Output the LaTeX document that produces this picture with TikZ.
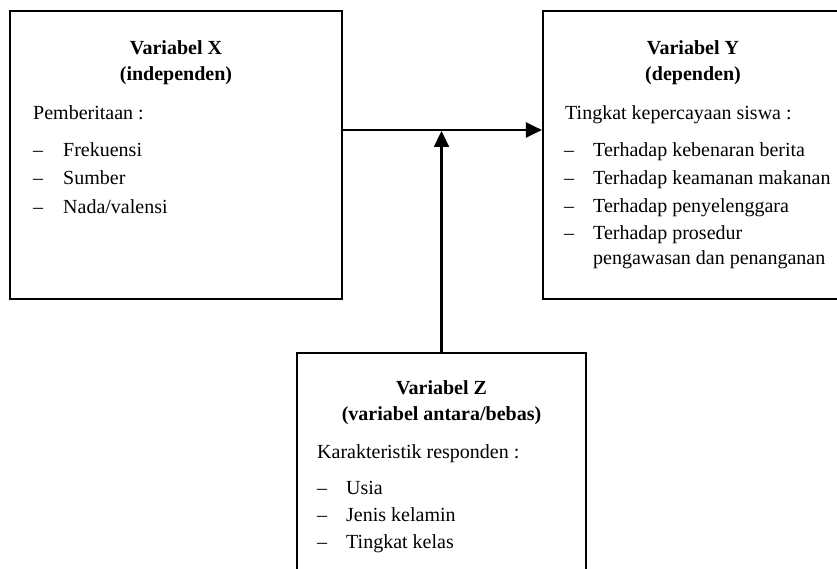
\documentclass[tikz,border=0pt]{standalone}
\usepackage{fontspec}
\setmainfont{Liberation Serif}
\usetikzlibrary{arrows.meta}
\begin{document}
\begin{tikzpicture}[x=1pt,y=-1pt,
  box/.style={draw,line width=2.2pt,inner sep=0pt},
  ttl/.style={font=\fontsize{20}{22}\selectfont\bfseries,anchor=base,inner sep=0pt},
  txt/.style={font=\fontsize{20}{22}\selectfont,anchor=base west,inner sep=0pt},
  arr/.style={line width=2.2pt,-{Triangle[length=16pt,width=15pt]}}]
\useasboundingbox (0,0) rectangle (837,569);
\clip (0,0) rectangle (837,569);
\fill[white] (0,0) rectangle (837,569);
% boxes
\node[box,minimum width=332pt,minimum height=288pt] (bx) at (176,155) {};
\node[box,minimum width=300pt,minimum height=288pt] (by) at (693,155) {};
\node[box,minimum width=289pt,minimum height=237pt] (bz) at (441.5,471.5) {};
% X text
\node[ttl] (xt1) at (176,55) {Variabel X};
\node[ttl] (xt2) at (176,81) {(independen)};
\node[txt] (xh) at (33,120) {Pemberitaan :};
\node[txt] (xd1) at (33,157) {\textendash};
\node[txt] (xi1) at (63,157) {Frekuensi};
\node[txt] (xd2) at (33,185) {\textendash};
\node[txt] (xi2) at (63,185) {Sumber};
\node[txt] (xd3) at (33,214) {\textendash};
\node[txt] (xi3) at (63,214) {Nada/valensi};
% Y text
\node[ttl] (yt1) at (693,55) {Variabel Y};
\node[ttl] (yt2) at (693,81) {(dependen)};
\node[txt] (yh) at (565,120) {Tingkat kepercayaan siswa :};
\node[txt] (yd1) at (564,157) {\textendash};
\node[txt] (yi1) at (593,157) {Terhadap kebenaran berita};
\node[txt] (yd2) at (564,185) {\textendash};
\node[txt] (yi2) at (593,185) {Terhadap keamanan makanan};
\node[txt] (yd3) at (564,213) {\textendash};
\node[txt] (yi3) at (593,213) {Terhadap penyelenggara};
\node[txt] (yd4) at (564,240) {\textendash};
\node[txt] (yi4) at (593,240) {Terhadap prosedur};
\node[txt] (yi5) at (593,264) {pengawasan dan penanganan};
% Z text
\node[ttl] (zt1) at (441.5,394) {Variabel Z};
\node[ttl] (zt2) at (441.5,420) {(variabel antara/bebas)};
\node[txt] (zh) at (317,458) {Karakteristik responden :};
\node[txt] (zd1) at (317,494) {\textendash};
\node[txt] (zi1) at (346,494) {Usia};
\node[txt] (zd2) at (317,521) {\textendash};
\node[txt] (zi2) at (346,521) {Jenis kelamin};
\node[txt] (zd3) at (317,548) {\textendash};
\node[txt] (zi3) at (346,548) {Tingkat kelas};
% connectors
\coordinate (m) at (441.5,130);
\coordinate (mz) at (441.5,131);
\draw[arr] (bx.east |- m) -- (by.west |- m);
\draw[arr] (bz.north) -- (mz);
\end{tikzpicture}
\end{document}
